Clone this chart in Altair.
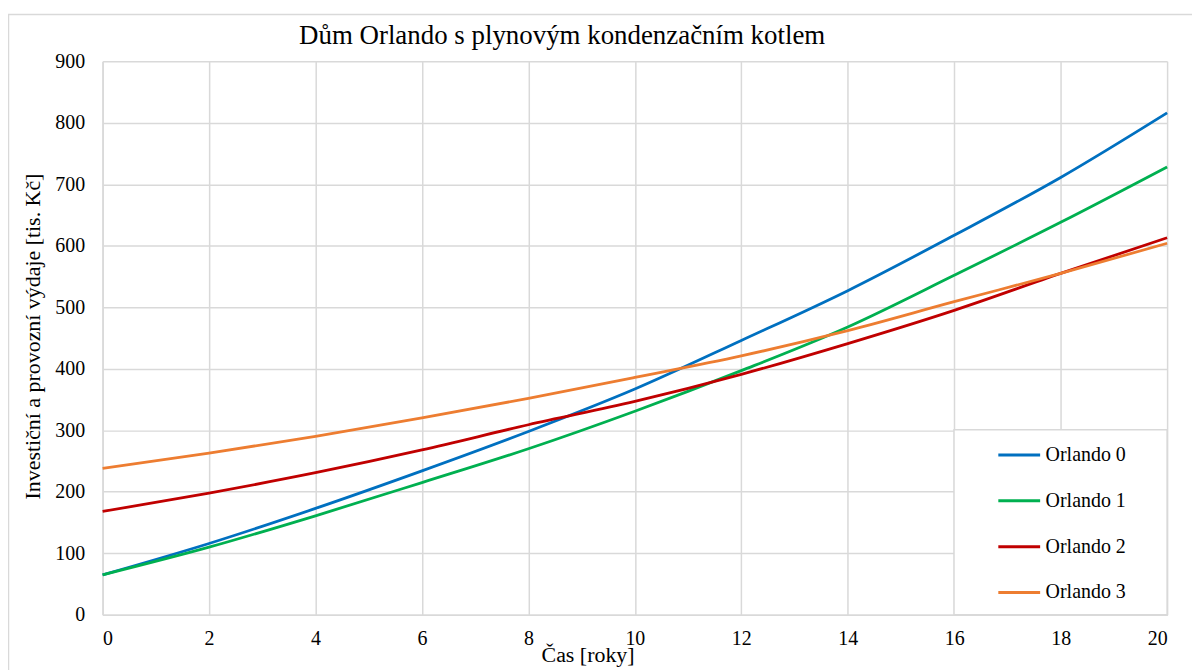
import altair as alt
import pandas as pd

years = [0, 2, 4, 6, 8, 10, 12, 14, 16, 18, 20]
series_names = ["Orlando 0", "Orlando 1", "Orlando 2", "Orlando 3"]
orlando0 = [65, 116, 173, 234, 298, 367, 446, 527, 617, 711, 816]
orlando1 = [65, 110, 161, 215, 270, 331, 397, 468, 552, 638, 728]
orlando2 = [168, 198, 231, 268, 309, 347, 391, 441, 495, 555, 613]
orlando3 = [238, 263, 290, 320, 352, 386, 421, 462, 509, 555, 604]
colors = ["#0070C0", "#00B050", "#C00000", "#ED7D31"]
x_ticks = list(range(0, 21, 2))
y_ticks = list(range(0, 901, 100))

rows = []
for name, vals in zip(series_names, [orlando0, orlando1, orlando2, orlando3]):
    for yr, v in zip(years, vals):
        rows.append({"rok": yr, "hodnota": v, "serie": name})
df = pd.DataFrame(rows)

FONT = "Liberation Serif"
GRID = "#d9d9d9"

lines = alt.Chart(df).mark_line(strokeWidth=2.8, interpolate="monotone").encode(
    x=alt.X("rok:Q",
            scale=alt.Scale(domain=[0, 20], nice=False),
            axis=alt.Axis(values=x_ticks, title="Čas [roky]", titleX=487, titleY=47,
                          titleBaseline="alphabetic", titleAlign="center")),
    y=alt.Y("hodnota:Q",
            scale=alt.Scale(domain=[0, 900], nice=False),
            axis=alt.Axis(values=y_ticks, title="Investiční a provozní výdaje [tis. Kč]",
                          titleX=-70, titleY=276, titleBaseline="middle", titleAlign="center",
                          titleAngle=270, labelPadding=18)),
    color=alt.Color("serie:N",
                    scale=alt.Scale(domain=series_names, range=colors),
                    legend=alt.Legend(
                        title=None, orient="none", legendX=898, legendY=373,
                        padding=0,
                        symbolType="stroke", symbolSize=1764, symbolStrokeWidth=3,
                        labelOffset=4, rowPadding=13,
                        labelFont=FONT, labelFontSize=20, labelColor="black",
                    )),
)

frame = alt.Chart(alt.Data(values=[{"a": 1}])).mark_rect(
    fill="transparent", stroke=GRID, strokeWidth=1.5
).encode(x=alt.value(-94.5), x2=alt.value(1120), y=alt.value(-47), y2=alt.value(660))

legend_box = alt.Chart(alt.Data(values=[{"a": 1}])).mark_rect(
    fill="white", stroke=GRID, strokeWidth=1.5
).encode(x=alt.value(855), x2=alt.value(1069), y=alt.value(370), y2=alt.value(556))

chart = alt.layer(frame, lines, legend_box).properties(
    width=1069, height=556,
    title=alt.TitleParams(
        "Dům Orlando s plynovým  kondenzačním kotlem",
        font=FONT, fontSize=27, fontWeight="normal", color="black",
        anchor="middle", dx=-73, offset=-57.5, baseline="alphabetic", frame="group",
    ),
    padding={"left": 95, "top": 52, "right": 25, "bottom": 60},
    autosize=alt.AutoSizeParams(type="none"),
).configure_view(stroke=None).configure_axis(
    labelFont=FONT, labelFontSize=20, labelColor="black",
    titleFont=FONT, titleFontSize=22, titleFontWeight="normal", titleColor="black",
    grid=True, gridColor=GRID, gridWidth=1.5,
    domainColor=GRID, domainWidth=1.5, ticks=False,
).configure_axisX(labelPadding=14)

chart.save("out.html", embed_options={"renderer": "svg", "actions": False})
